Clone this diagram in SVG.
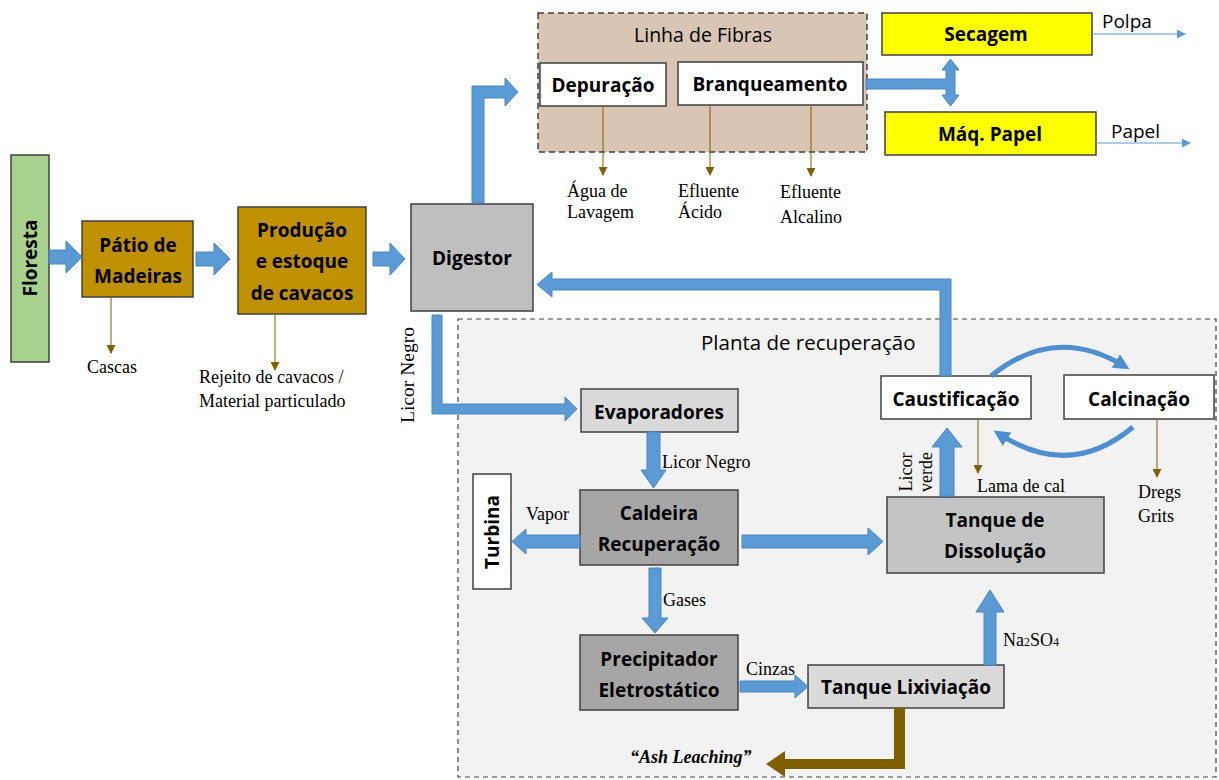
<svg xmlns="http://www.w3.org/2000/svg" width="1219" height="780" viewBox="0 0 1219 780">
<style>
.n{stroke:#404040;stroke-width:1.5}
.b{font-family:"Open Sans","Liberation Sans",sans-serif;font-weight:bold;font-size:19px;fill:#000;text-anchor:middle}
.r{font-family:"Open Sans","Liberation Sans",sans-serif;font-size:19px;fill:#000}
.s{font-family:"Liberation Serif","Times New Roman",serif;font-size:18px;fill:#000}
.ba{fill:#5b9bd5;stroke:#4a86c0;stroke-width:1}
.tl{stroke:#7f6000;stroke-width:1;fill:none;marker-end:url(#tb)}
.bl{stroke:#5b9bd5;stroke-width:1.2;fill:none;marker-end:url(#tbl)}
.ca{stroke:#4f8fcf;stroke-width:5;fill:none;marker-end:url(#ca)}
</style>
<defs>
<marker id="tb" viewBox="0 0 10 10" refX="9" refY="5" markerWidth="9" markerHeight="9" markerUnits="userSpaceOnUse" orient="auto"><path d="M0,0 L10,5 L0,10 z" fill="#7f6000"/></marker>
<marker id="tbl" viewBox="0 0 10 10" refX="9" refY="5" markerWidth="9" markerHeight="9" markerUnits="userSpaceOnUse" orient="auto"><path d="M0,0 L10,5 L0,10 z" fill="#5b9bd5"/></marker>
<marker id="ca" viewBox="0 0 10 10" refX="6" refY="5" markerWidth="16" markerHeight="16" markerUnits="userSpaceOnUse" orient="auto"><path d="M0,0 L10,5 L0,10 z" fill="#4f8fcf"/></marker>
</defs>
<rect width="1219" height="780" fill="#fff"/>

<!-- containers -->
<g id="linha-fibras">
<rect x="538" y="13" width="329" height="139" fill="#d8c5b3" stroke="#404040" stroke-width="1.5" stroke-dasharray="6,4"/>
<text class="r" x="703" y="42" text-anchor="middle" style="font-size:19.5px">Linha de Fibras</text>
</g>
<g id="planta-recuperacao">
<rect x="458" y="319" width="758" height="458" fill="#f2f2f2" stroke="#404040" stroke-width="1.2" stroke-dasharray="5,4"/>
<text class="r" x="701" y="350" style="font-size:20.5px">Planta de recuperação</text>
</g>

<!-- nodes -->
<g id="floresta"><rect class="n" x="11" y="155" width="38" height="207" fill="#a9d18e"/><text class="b" transform="translate(30,258) rotate(-90)" dominant-baseline="central">Floresta</text></g>
<g id="patio"><rect class="n" x="82" y="221" width="111" height="76" fill="#bf9000"/><text class="b" x="138" y="252">Pátio de</text><text class="b" x="138" y="283">Madeiras</text></g>
<g id="producao"><rect class="n" x="238" y="207" width="128" height="107" fill="#bf9000"/><text class="b" x="302" y="237">Produção</text><text class="b" x="302" y="268">e estoque</text><text class="b" x="302" y="300">de cavacos</text></g>
<g id="digestor"><rect class="n" x="411" y="204" width="122" height="107" fill="#bfbfbf"/><text class="b" x="472" y="265">Digestor</text></g>
<g id="depuracao"><rect class="n" x="540" y="63" width="126" height="43" fill="#fff"/><text class="b" x="603" y="92">Depuração</text></g>
<g id="branqueamento"><rect class="n" x="678" y="62" width="185" height="43" fill="#fff"/><text class="b" x="770" y="91">Branqueamento</text></g>
<g id="secagem"><rect class="n" x="882" y="13" width="210" height="42" fill="#ffff00"/><text class="b" x="986" y="41">Secagem</text></g>
<g id="maq-papel"><rect class="n" x="885" y="112" width="211" height="43" fill="#ffff00"/><text class="b" x="990" y="141">Máq. Papel</text></g>
<g id="evaporadores"><rect class="n" x="581" y="389" width="157" height="43" fill="#d9d9d9"/><text class="b" x="659" y="419">Evaporadores</text></g>
<g id="caldeira"><rect class="n" x="580" y="490" width="158" height="75" fill="#a6a6a6"/><text class="b" x="659" y="520">Caldeira</text><text class="b" x="659" y="551">Recuperação</text></g>
<g id="turbina"><rect class="n" x="473" y="474" width="38" height="115" fill="#fff"/><text class="b" transform="translate(492,532) rotate(-90)" dominant-baseline="central">Turbina</text></g>
<g id="precipitador"><rect class="n" x="580" y="635" width="158" height="75" fill="#a6a6a6"/><text class="b" x="659" y="666">Precipitador</text><text class="b" x="659" y="697">Eletrostático</text></g>
<g id="lixiviacao"><rect class="n" x="808" y="665" width="196" height="43" fill="#d9d9d9"/><text class="b" x="906" y="694">Tanque Lixiviação</text></g>
<g id="dissolucao"><rect class="n" x="887" y="497" width="217" height="76" fill="#c4c4c4"/><text class="b" x="995" y="527">Tanque de</text><text class="b" x="995" y="558">Dissolução</text></g>
<g id="caustificacao"><rect class="n" x="881" y="376" width="150" height="43" fill="#fff"/><text class="b" x="956" y="406">Caustificação</text></g>
<g id="calcinacao"><rect class="n" x="1064" y="375" width="150" height="44" fill="#fff"/><text class="b" x="1139" y="406">Calcinação</text></g>

<!-- connectors -->
<g id="connectors">
<polygon class="ba" points="49,250 66,250 66,241 82,257 66,273 66,264 49,264"/>
<polygon class="ba" points="196,252 214,252 214,243 230,259 214,275 214,266 196,266"/>
<polygon class="ba" points="373,252 390,252 390,243 405,259 390,275 390,266 373,266"/>
<polygon class="ba" points="472,203 472,86 505,86 505,78 518,92 505,106 505,98 484,98 484,203"/>
<polygon class="ba" points="866,79 946,79 946,70 942,70 950.5,59 959,70 955,70 955,95 959,95 950.5,106 942,95 946,95 946,89 866,89"/>
<polygon class="ba" points="432,315 442,315 442,404 565,404 565,397 577,409 565,421 565,414 432,414"/>
<polygon class="ba" points="951,376 951,279 552,279 552,272 537,284.5 552,297 552,290 940,290 940,376"/>
<polygon class="ba" points="647,432 660,432 660,470 666,470 653.5,488 641,470 647,470"/>
<polygon class="ba" points="580,535 526,535 526,529 512,541.5 526,554 526,548 580,548"/>
<polygon class="ba" points="742,535 868,535 868,528 883,541.5 868,555 868,548 742,548"/>
<polygon class="ba" points="649,568 661,568 661,618 668,618 655,633 642,618 649,618"/>
<polygon class="ba" points="740,681 795,681 795,675 808,686.5 795,698 795,692 740,692"/>
<polygon class="ba" points="984,665 984,612 976,612 990,590 1004,612 996,612 996,665"/>
<polygon class="ba" points="940,496 940,447 932,447 947,428 962,447 954,447 954,496"/>
<polygon points="894,708 905,708 905,769 785,769 785,777 766,764 785,751 785,759 894,759" fill="#7f6000"/>
<path class="ca" d="M991,376 Q1055,324 1124,366"/>
<path class="ca" d="M1133,427 Q1070,480 999,434"/>
<line class="tl" x1="111" y1="297" x2="111" y2="353"/>
<line class="tl" x1="275" y1="314" x2="275" y2="370"/>
<line class="tl" x1="603" y1="106" x2="603" y2="175"/>
<line class="tl" x1="710" y1="105" x2="710" y2="175"/>
<line class="tl" x1="811" y1="105" x2="811" y2="176"/>
<line class="tl" x1="978" y1="420" x2="978" y2="473"/>
<line class="tl" x1="1157" y1="420" x2="1157" y2="477"/>
<line class="bl" x1="1092" y1="34" x2="1185" y2="34"/>
<line class="bl" x1="1096" y1="143" x2="1190" y2="143"/>
</g>

<!-- labels -->
<g id="labels">
<text class="r" x="1102" y="28">Polpa</text>
<text class="r" x="1111" y="138">Papel</text>
<text class="s" x="87" y="373">Cascas</text>
<text class="s" x="199" y="383">Rejeito de cavacos /</text>
<text class="s" x="199" y="407">Material particulado</text>
<text class="s" x="567" y="197">Água de</text>
<text class="s" x="567" y="218">Lavagem</text>
<text class="s" x="678" y="197">Efluente</text>
<text class="s" x="678" y="218">Ácido</text>
<text class="s" x="780" y="198">Efluente</text>
<text class="s" x="780" y="223">Alcalino</text>
<text class="s" transform="translate(414,375) rotate(-90)" text-anchor="middle" style="font-size:19.5px">Licor Negro</text>
<text class="s" x="662" y="468">Licor Negro</text>
<text class="s" x="526" y="520">Vapor</text>
<text class="s" x="663" y="606">Gases</text>
<text class="s" x="746" y="675">Cinzas</text>
<text class="s" x="1003" y="646">Na<tspan style="font-size:12px">2</tspan>SO<tspan style="font-size:12px">4</tspan></text>
<text class="s" x="977" y="492">Lama de cal</text>
<text class="s" x="1138" y="498">Dregs</text>
<text class="s" x="1138" y="522">Grits</text>
<text class="s" transform="translate(912,472) rotate(-90)" text-anchor="middle">Licor</text>
<text class="s" transform="translate(932,472) rotate(-90)" text-anchor="middle">verde</text>
<text class="s" x="630" y="763" font-weight="bold" font-style="italic">“Ash Leaching”</text>
</g>
</svg>
